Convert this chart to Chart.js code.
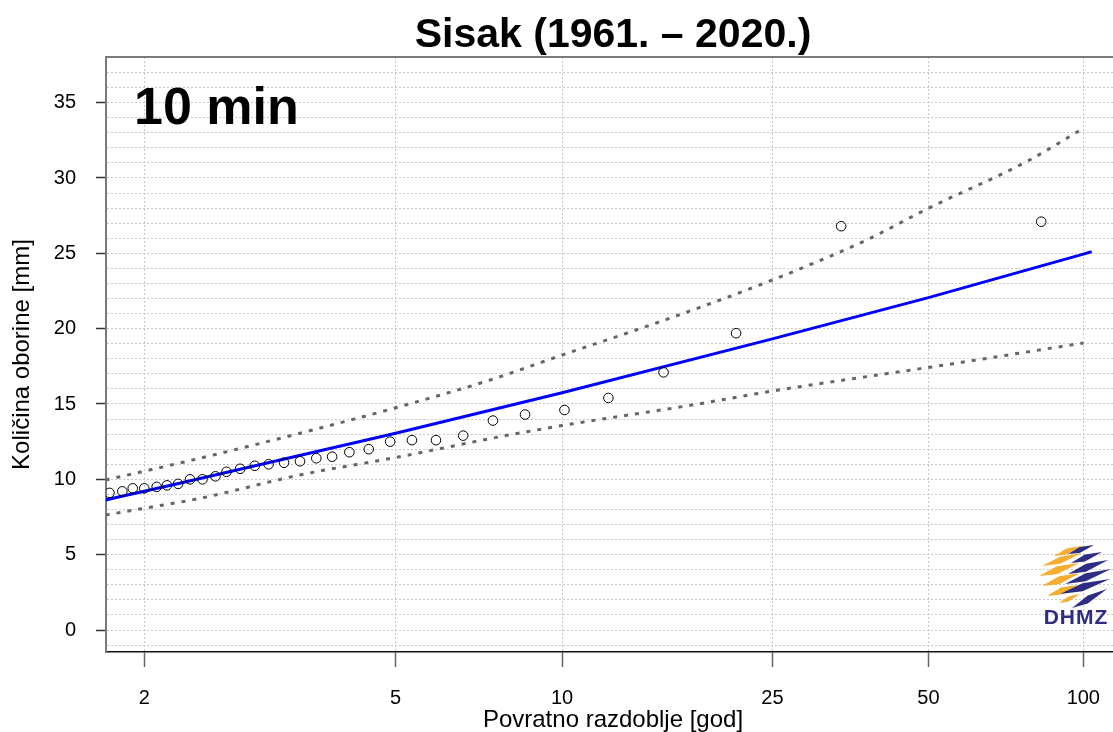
<!DOCTYPE html>
<html>
<head>
<meta charset="utf-8">
<script src="https://cdn.jsdelivr.net/npm/chart.js@4.4.1/dist/chart.umd.min.js"></script>
<style>
  html, body { margin: 0; padding: 0; background: #fff; overflow: hidden; }
  #wrap { width: 1113px; height: 732px; }
</style>
</head>
<body>
<div id="wrap"><canvas id="chart" width="1113" height="732"></canvas></div>
<script>
const chartTitle = 'Sisak (1961. – 2020.)';
const durationLabel = '10 min';
const xTitle = 'Povratno razdoblje [god]';
const yTitle = 'Količina oborine [mm]';

// x axis: return period [years], drawn on a Gumbel reduced-variate scale
const xTickPeriods = [2, 5, 10, 25, 50, 100];
const xTickLabels = ['2', '5', '10', '25', '50', '100'];

// observed annual maxima (return period, mm)
const obsPeriod = [1.80, 1.87, 1.93, 2.00, 2.08, 2.15, 2.23, 2.32, 2.42, 2.53, 2.63, 2.76, 2.91, 3.06, 3.24, 3.44,
                   3.66, 3.89, 4.16, 4.49, 4.89, 5.34, 5.89, 6.59, 7.46, 8.54, 10.1, 12.2, 15.5, 21.3, 33.9, 82.8];
const obsAmount = [9.1, 9.2, 9.4, 9.4, 9.5, 9.6, 9.7, 10.0, 10.0, 10.2, 10.5, 10.7, 10.9, 11.0, 11.1, 11.2,
                   11.4, 11.5, 11.8, 12.0, 12.5, 12.6, 12.6, 12.9, 13.9, 14.3, 14.6, 15.4, 17.1, 19.7, 26.8, 27.1];

// fitted distribution
const fitPeriod = [1.78, 2, 5, 10, 25, 50, 100, 103.8];
const fitAmount = [8.63, 9.21, 13.06, 15.75, 19.32, 22.06, 24.95, 25.11];

// confidence band
const upperPeriod = [1.78, 2, 2.4, 3.44, 5, 7.37, 10, 15.71, 25, 37.97, 50, 78.2, 100];
const upperAmount = [9.96, 10.54, 11.40, 13.06, 14.75, 16.59, 18.25, 20.62, 23.23, 25.89, 27.99, 31.15, 33.3];
const lowerPeriod = [1.78, 2, 2.4, 3.44, 5, 7.69, 10, 17.4, 25, 42.73, 50.8, 100];
const lowerAmount = [7.63, 8.08, 8.74, 10.29, 11.45, 12.83, 13.57, 14.91, 15.86, 17.08, 17.46, 19.05];

const FONT = '"Liberation Sans", Arial, sans-serif';

function gumbel(T) {
    return -Math.log(-Math.log(1 - 1 / T));
}

function toPoints(periods, values) {
    return periods.map((t, i) => ({x: gumbel(t), y: values[i]}));
}

const yTicks = [];
for (let v = -1; v <= 38; v++) yTicks.push(v);

// title, panel label, x title, top frame and logo
const decorations = {
    id: 'decorations',
    afterDraw(chart) {
        const {ctx, chartArea} = chart;
        ctx.save();
        ctx.strokeStyle = '#7a7a7a';
        ctx.lineWidth = 2;
        ctx.beginPath();
        ctx.moveTo(chartArea.left, chartArea.top);
        ctx.lineTo(chartArea.right, chartArea.top);
        ctx.stroke();

        ctx.fillStyle = '#000';
        ctx.textAlign = 'center';
        ctx.textBaseline = 'alphabetic';
        ctx.font = 'bold 41px ' + FONT;
        ctx.fillText(chartTitle, 613, 47);

        ctx.font = '24px ' + FONT;
        ctx.fillText(xTitle, 613, 727);

        ctx.textAlign = 'left';
        ctx.font = 'bold 52px ' + FONT;
        ctx.fillText(durationLabel, chartArea.left + 28, chartArea.top + 67);

        // DHMZ logo
        const ox = chartArea.right - 83, oy = chartArea.bottom - 112;
        const wedge = (x1, y1, x2, y2, w, color) => {
            const xm = x1 + (x2 - x1) * 0.45, ym = y1 + (y2 - y1) * 0.45;
            ctx.fillStyle = color;
            ctx.beginPath();
            ctx.moveTo(ox + x1, oy + y1);
            ctx.lineTo(ox + xm, oy + ym - w / 2);
            ctx.lineTo(ox + x2, oy + y2);
            ctx.lineTo(ox + xm, oy + ym + w / 2);
            ctx.closePath();
            ctx.fill();
        };
        const orange = '#f6ad2e', navy = '#2e2d83';
        wedge(24, 16, 52, 6, 6, orange);
        wedge(12, 26, 52, 13, 7, orange);
        wedge(9, 36, 49, 23, 8, orange);
        wedge(12, 46, 50, 33, 8, orange);
        wedge(17, 56, 48, 45, 7, orange);
        wedge(29, 63, 50, 54, 5, orange);
        wedge(38, 14, 64, 5, 6, navy);
        wedge(41, 23, 72, 12, 7, navy);
        wedge(38, 34, 78, 20, 8, navy);
        wedge(35, 44, 81, 29, 8, navy);
        wedge(30, 54, 80, 39, 8, navy);
        wedge(42, 68, 77, 49, 8, navy);

        ctx.fillStyle = navy;
        ctx.textAlign = 'center';
        ctx.font = 'bold 21px ' + FONT;
        ctx.letterSpacing = '1px';
        ctx.fillText('DHMZ', ox + 46, oy + 84);
        ctx.restore();
    }
};

const ctx = document.getElementById('chart').getContext('2d');
new Chart(ctx, {
    type: 'scatter',
    data: {
        datasets: [{
            label: 'observed',
            data: toPoints(obsPeriod, obsAmount),
            showLine: false,
            pointStyle: 'circle',
            pointRadius: 4.8,
            pointBorderWidth: 1,
            pointBorderColor: '#000',
            pointBackgroundColor: 'rgba(0,0,0,0)'
        }, {
            label: 'fit',
            data: toPoints(fitPeriod, fitAmount),
            showLine: true,
            borderColor: '#0000ff',
            borderWidth: 3,
            pointRadius: 0,
            cubicInterpolationMode: 'monotone'
        }, {
            label: 'upper',
            data: toPoints(upperPeriod, upperAmount),
            showLine: true,
            borderColor: '#666666',
            borderWidth: 3,
            borderDash: [4, 7],
            pointRadius: 0,
            cubicInterpolationMode: 'monotone'
        }, {
            label: 'lower',
            data: toPoints(lowerPeriod, lowerAmount),
            showLine: true,
            borderColor: '#666666',
            borderWidth: 3,
            borderDash: [4, 7],
            pointRadius: 0,
            cubicInterpolationMode: 'monotone'
        }]
    },
    options: {
        responsive: false,
        animation: false,
        events: [],
        layout: {autoPadding: false, padding: {top: 57, left: 0, right: 0, bottom: 0}},
        plugins: {
            legend: {display: false},
            tooltip: {enabled: false}
        },
        scales: {
            x: {
                type: 'linear',
                min: 0.194,
                max: 4.734,
                afterBuildTicks: scale => {
                    scale.ticks = xTickPeriods.map(t => ({value: gumbel(t)}));
                },
                afterFit: scale => {
                    scale.height = 80;
                    scale.paddingLeft = 0;
                    scale.paddingRight = 0;
                },
                ticks: {
                    autoSkip: false,
                    maxRotation: 0,
                    padding: 19,
                    color: '#000',
                    font: {family: FONT, size: 20},
                    callback: (value, index) => xTickLabels[index]
                },
                grid: {
                    color: '#c8c8c8',
                    lineWidth: 1,
                    tickLength: 15,
                    tickColor: '#666',
                    tickWidth: 1.5,
                    tickBorderDash: []
                },
                border: {display: true, color: '#111', width: 1.5, dash: [2, 2]}
            },
            y: {
                type: 'linear',
                min: -1.46,
                max: 38.03,
                afterBuildTicks: scale => {
                    scale.ticks = yTicks.map(v => ({value: v}));
                },
                afterFit: scale => {
                    scale.width = 106;
                    scale.paddingTop = 0;
                    scale.paddingBottom = 0;
                },
                ticks: {
                    autoSkip: false,
                    padding: 20,
                    color: '#000',
                    font: {family: FONT, size: 20},
                    callback: value => (value >= 0 && value % 5 === 0) ? String(value) : ''
                },
                grid: {
                    color: '#c8c8c8',
                    lineWidth: 1,
                    tickLength: 10,
                    tickColor: c => (c.tick && c.tick.value >= 0 && c.tick.value % 5 === 0) ? '#333' : 'rgba(0,0,0,0)',
                    tickWidth: 1.5,
                    tickBorderDash: []
                },
                border: {display: true, color: '#7a7a7a', width: 2, dash: [2, 2]},
                title: {
                    display: true,
                    text: yTitle,
                    color: '#000',
                    font: {family: FONT, size: 24},
                    padding: {top: 8, bottom: 0}
                }
            }
        }
    },
    plugins: [decorations]
});
</script>
</body>
</html>
